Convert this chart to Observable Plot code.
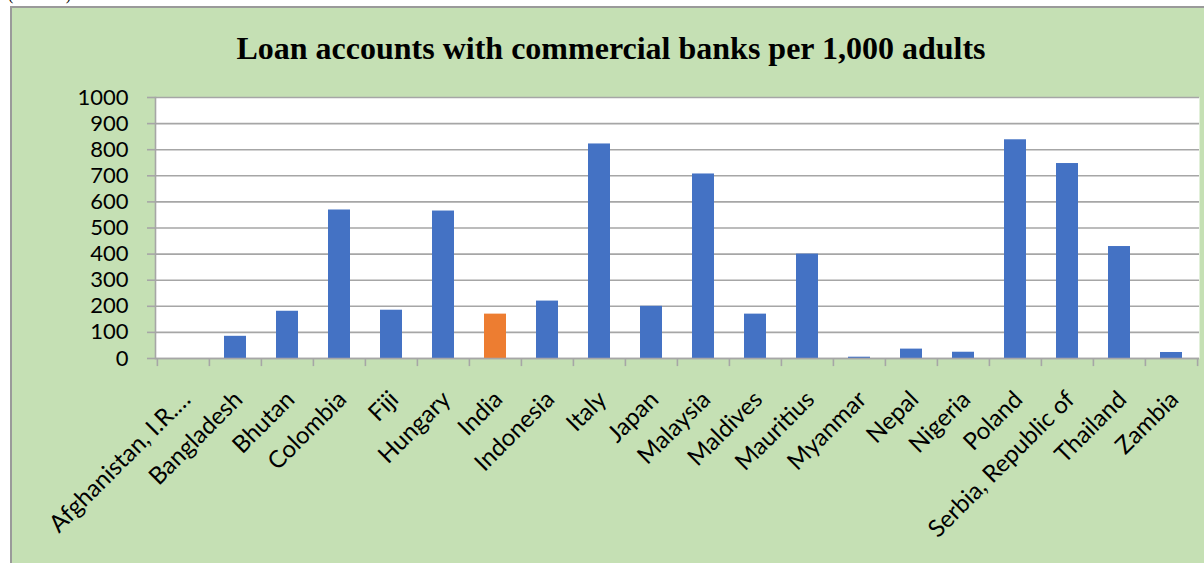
<!DOCTYPE html>
<html>
<head>
<meta charset="utf-8">
<script src="https://cdn.jsdelivr.net/npm/d3@7"></script>
<script src="https://cdn.jsdelivr.net/npm/@observablehq/plot@0.6"></script>
<style>
  html, body { margin: 0; padding: 0; background: #ffffff; width: 1204px; height: 563px; overflow: hidden; }
  #note { position: absolute; left: 8px; top: -14px; font: 16px "Liberation Serif", serif; color: #000; }
  #panel { position: absolute; left: 10px; top: 6px; width: 1194px; height: 557px; background: #c5e0b4;
           border-left: 2px solid #9a9a9a; border-top: 2px solid #9a9a9a; box-sizing: border-box; }
  #title { position: absolute; left: 0; width: 1222px; top: 30px; text-align: center;
           font: bold 32px "Liberation Serif", "Times New Roman", serif; color: #000; }
  #chart { position: absolute; left: 0; top: 0; }
</style>
</head>
<body>
<div id="note">(Number)</div>
<div id="panel"></div>
<div id="title">Loan accounts with commercial banks per 1,000 adults</div>
<div id="chart"></div>
<script>
const countries = ["Afghanistan, I.R.…", "Bangladesh", "Bhutan", "Colombia", "Fiji", "Hungary", "India", "Indonesia",
  "Italy", "Japan", "Malaysia", "Maldives", "Mauritius", "Myanmar", "Nepal", "Nigeria", "Poland",
  "Serbia, Republic of", "Thailand", "Zambia"];
const loans = [0, 85, 181, 569, 185, 565, 170, 220, 822, 200, 707, 170, 400, 5, 36, 24, 838, 747, 429, 23];
const yTicks = [0, 100, 200, 300, 400, 500, 600, 700, 800, 900, 1000];
const highlighted = "India";

const data = countries.map((c, i) => ({country: c, value: loans[i]}));
const blue = "#4472c4", orange = "#ed7d31", gray = "#a6a6a6";

const W = 1204, H = 563, mL = 155, mR = 5, mT = 97, mB = H - 358;
const step = (W - mL - mR) / countries.length;

const plot = Plot.plot({
  width: W, height: H,
  marginLeft: mL, marginRight: mR, marginTop: mT, marginBottom: mB,
  style: {background: "transparent", fontFamily: "Lato, 'Open Sans', sans-serif", color: "#000", overflow: "visible"},
  x: {domain: countries, paddingInner: 0.58, paddingOuter: 0.29, label: null},
  y: {domain: [0, 1000], label: null},
  marks: [
    Plot.frame({fill: "white", stroke: null}),
    Plot.gridY(yTicks, {stroke: gray, strokeOpacity: 1, strokeWidth: 1.6}),
    Plot.barY(data, {x: "country", y: "value", fill: d => d.country === highlighted ? orange : blue}),
    Plot.ruleY([0], {stroke: gray, strokeWidth: 1.6}),
    Plot.frame({anchor: "left", stroke: gray, strokeWidth: 1.6}),
    Plot.ruleX(countries, {x: d => d, y1: 0, y2: -31, dx: -step / 2, stroke: gray, strokeWidth: 1.6, clip: false}),
    Plot.ruleX([countries[countries.length - 1]], {x: d => d, y1: 0, y2: -31, dx: step / 2, stroke: gray, strokeWidth: 1.6}),
    Plot.axisY({ticks: yTicks, tickSize: 8, tickPadding: 19, fontSize: 22, stroke: gray, strokeWidth: 1.6,
                fill: "#000", tickFormat: d3.format("d"), label: null}),
    Plot.axisX({tickRotate: -45, tickSize: 0, tickPadding: 37, dx: 3, fontSize: 24, fill: "#000", label: null})
  ]
});
document.getElementById("chart").appendChild(plot);
</script>
</body>
</html>
